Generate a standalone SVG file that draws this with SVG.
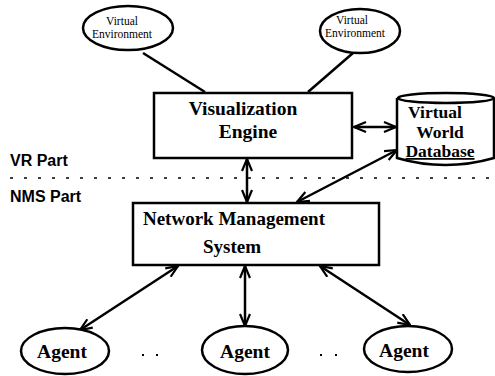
<svg xmlns="http://www.w3.org/2000/svg" width="495" height="376" viewBox="0 0 495 376">
<style>
.shape{fill:#fff;stroke:#000;stroke-width:2.5}
.serif{font-family:"Liberation Serif","Times New Roman",serif;font-weight:bold;fill:#000;text-anchor:middle}
.small{font-family:"Liberation Serif","Times New Roman",serif;font-size:11.5px;fill:#000;text-anchor:middle}
.sans{font-family:"Liberation Sans",Arial,sans-serif;font-weight:bold;font-size:16px;fill:#000}
.conn{stroke:#000;stroke-width:2.5;fill:none}
</style>
<defs>
<marker id="arr" viewBox="0 0 14 12" refX="13" refY="6" markerWidth="14" markerHeight="12" markerUnits="userSpaceOnUse" orient="auto-start-reverse">
<path d="M1,1 L13,6 L1,11" fill="none" stroke="#000" stroke-width="2.2"/>
</marker>
</defs>
<rect width="495" height="376" fill="#fff"/>
<line x1="10" y1="178" x2="495" y2="178" stroke="#000" stroke-width="1.3" stroke-dasharray="3 11"/>
<text class="sans" x="10" y="166">VR Part</text>
<text class="sans" x="10" y="202">NMS Part</text>
<g id="connectors">
<line class="conn" x1="143" y1="53" x2="205" y2="92"/>
<line class="conn" x1="353" y1="53" x2="308" y2="92"/>
<line class="conn" x1="354" y1="127" x2="396" y2="127" marker-start="url(#arr)" marker-end="url(#arr)"/>
<line class="conn" x1="247" y1="159" x2="247" y2="202" marker-start="url(#arr)" marker-end="url(#arr)"/>
<line class="conn" x1="397" y1="150" x2="297" y2="202" marker-start="url(#arr)" marker-end="url(#arr)"/>
<line class="conn" x1="178" y1="266" x2="80" y2="330" marker-start="url(#arr)" marker-end="url(#arr)"/>
<line class="conn" x1="245" y1="266" x2="245" y2="326" marker-start="url(#arr)" marker-end="url(#arr)"/>
<line class="conn" x1="320" y1="266" x2="410" y2="325" marker-start="url(#arr)" marker-end="url(#arr)"/>
</g>
<g id="ve1">
<ellipse class="shape" cx="128" cy="28" rx="45" ry="22"/>
<text class="small" x="122" y="25">Virtual</text>
<text class="small" x="122" y="38">Environment</text>
</g>
<g id="ve2">
<ellipse class="shape" cx="360" cy="31" rx="40" ry="22"/>
<text class="small" x="352" y="24">Virtual</text>
<text class="small" x="355" y="37">Environment</text>
</g>
<g id="viz">
<rect class="shape" x="154" y="93" width="198" height="65"/>
<text class="serif" x="243" y="115" font-size="19.5">Visualization</text>
<text class="serif" x="248" y="138" font-size="19.5">Engine</text>
</g>
<g id="db">
<path class="shape" d="M397,98 L397,158 Q445,172 494,158 L494,98"/>
<ellipse class="shape" cx="446" cy="98" rx="48" ry="5"/>
<text class="serif" x="435" y="118" font-size="17.5">Virtual</text>
<text class="serif" x="440" y="137.5" font-size="17.5">World</text>
<text class="serif" x="440" y="157" font-size="17.5" text-decoration="underline">Database</text>
</g>
<g id="nms">
<rect class="shape" x="133" y="203" width="246" height="62"/>
<text class="serif" x="234" y="225" font-size="19">Network Management</text>
<text class="serif" x="232" y="253" font-size="19">System</text>
</g>
<g id="agent1">
<ellipse class="shape" cx="65" cy="351" rx="44" ry="23"/>
<text class="serif" x="62" y="358" font-size="19.5">Agent</text>
</g>
<g id="agent2">
<ellipse class="shape" cx="245" cy="350" rx="43" ry="24"/>
<text class="serif" x="245" y="358" font-size="19.5">Agent</text>
</g>
<g id="agent3">
<ellipse class="shape" cx="408" cy="349" rx="44" ry="23"/>
<text class="serif" x="404" y="357" font-size="19.5">Agent</text>
</g>
<g id="dots" fill="#000">
<rect x="142" y="354" width="2" height="2"/>
<rect x="156" y="354" width="2" height="2"/>
<rect x="320" y="354" width="2" height="2"/>
<rect x="335" y="354" width="2" height="2"/>
</g>
</svg>
